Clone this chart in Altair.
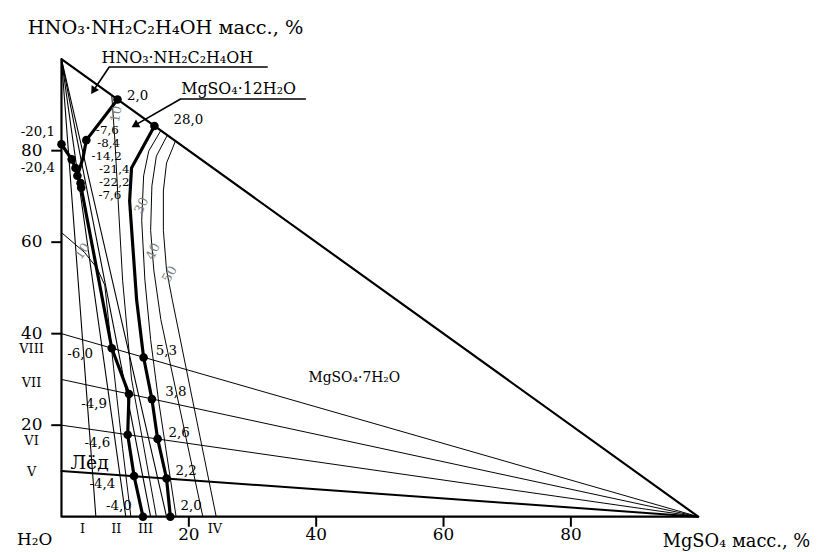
import altair as alt
import pandas as pd

# ---------------- data (x = MgSO4 mass %, y = HNO3·NH2C2H4OH mass %) ----------------
side_x = [0, 100, 0, 0]
side_y = [100, 0, 0, 100]

fan_ends = [5.4, 10.1, 14.0, 16.5]          # sections I..IV from HNO3·NH2C2H4OH vertex
sec_starts = [10, 20, 30, 40]                # sections V..VIII from MgSO4 vertex

curve_A_x = [3.1, 7.9, 10.6, 10.4, 11.4, 12.8]
curve_A_y = [71.9, 36.8, 26.8, 17.9, 8.9, 0]
curve_B_x = [14.6, 11.0, 10.7, 11.8, 12.9, 14.2, 15.1, 16.5, 17.1]
curve_B_y = [85.4, 76.2, 69.0, 47.4, 34.8, 25.7, 17.0, 8.35, 0]
curve_C_x = [8.8, 3.9, 3.4, 2.5]
curve_C_y = [91.2, 82.3, 78.5, 74.5]
curve_D_x = [0, 1.6, 2.2, 2.5, 3.0, 3.1]
curve_D_y = [81.4, 78.1, 76.2, 74.5, 72.9, 71.9]

iso10a_x = [7.9, 8.4, 8.9, 9.6, 11.0, 14.9]
iso10a_y = [92.1, 82.0, 69.0, 51.7, 30.1, 0]
iso10b_x = [0, 3.6, 5.6, 6.8, 8.2, 9.6, 10.9]
iso10b_y = [62.1, 57.8, 54.3, 50.6, 32.3, 14.9, 0]
iso30_x = [15.6, 13.7, 12.9, 12.6, 13.1, 14.0, 15.2, 18.0]
iso30_y = [84.4, 79.9, 74.5, 64.7, 51.7, 38.7, 25.8, 0]
iso40_x = [16.6, 14.9, 14.2, 14.0, 14.5, 15.6, 22.2]
iso40_y = [83.3, 78.8, 72.3, 62.6, 53.9, 43.1, 0]
iso50_x = [17.9, 16.5, 16.0, 16.0, 16.5, 17.4, 24.3]
iso50_y = [82.1, 77.3, 71.2, 62.6, 53.9, 47.4, 0]

lead1_x = [32.3, 7.5, 5.1]
lead1_y = [98.3, 98.3, 93.3]
lead2_x = [38.3, 18.7, 11.7]
lead2_y = [91.3, 91.3, 85.7]

# points with temperatures
pt_x = [8.8, 14.6, 0, 3.9, 1.6, 2.2, 2.5, 3.0, 3.1,
        7.9, 10.6, 10.4, 11.4, 12.8,
        12.9, 14.2, 15.1, 16.5, 17.1]
pt_y = [91.2, 85.4, 81.4, 82.3, 78.1, 76.2, 74.5, 72.9, 71.9,
        36.8, 26.8, 17.9, 8.9, 0,
        34.8, 25.7, 17.0, 8.35, 0]

ticks = [20, 40, 60, 80]

# ---------------- build tables ----------------
rows = []
def add(name, xs, ys, w):
    for i, (a, b) in enumerate(zip(xs, ys)):
        rows.append({"id": name, "ord": i, "x": a, "y": b, "w": w})

add("sides", side_x, side_y, 2.2)
for k, e in enumerate(fan_ends):
    add(f"fan{k}", [0, e], [100, 0], 1.1)
for k, s in enumerate(sec_starts):
    add(f"sec{k}", [0, 100], [s, 0], 2.0 if k == 0 else 1.0)
add("A", curve_A_x, curve_A_y, 3.2)
add("B", curve_B_x, curve_B_y, 3.2)
add("C", curve_C_x, curve_C_y, 3.2)
add("D", curve_D_x, curve_D_y, 3.2)
add("i10a", iso10a_x, iso10a_y, 1.0)
add("i10b", iso10b_x, iso10b_y, 1.0)
add("i30", iso30_x, iso30_y, 1.0)
add("i40", iso40_x, iso40_y, 1.0)
add("i50", iso50_x, iso50_y, 1.0)
add("lead1", lead1_x, lead1_y, 1.6)
add("lead2", lead2_x, lead2_y, 1.6)
lines = pd.DataFrame(rows)

tick_rows = []
for t in ticks:
    tick_rows.append({"x": -1.6, "x2": 0, "y": t, "y2": t})
    tick_rows.append({"x": t, "x2": t, "y": 0, "y2": -2.2})
tick_df = pd.DataFrame(tick_rows)

pts = pd.DataFrame({"x": pt_x, "y": pt_y})
arrows = pd.DataFrame({"x": [lead1_x[-1], lead2_x[-1]], "y": [lead1_y[-1], lead2_y[-1]],
                       "a": [213, 240]})

FONT = "DejaVu Serif"

left_txt = pd.DataFrame([
    {"x": -5.3, "y": 106.9, "t": "HNO₃·NH₂C₂H₄OH масс., %", "s": 19.5},
    {"x": 6.3, "y": 100.3, "t": "HNO₃·NH₂C₂H₄OH", "s": 16},
    {"x": 18.8, "y": 93.5, "t": "MgSO₄·12H₂O", "s": 16},
    {"x": 10.3, "y": 92.0, "t": "2,0", "s": 13.5},
    {"x": 17.6, "y": 86.8, "t": "28,0", "s": 13.5},
    {"x": 5.4, "y": 84.4, "t": "-7,6", "s": 12},
    {"x": 5.6, "y": 81.6, "t": "-8,4", "s": 12},
    {"x": 4.7, "y": 78.8, "t": "-14,2", "s": 12},
    {"x": 5.9, "y": 76.0, "t": "-21,4", "s": 12},
    {"x": 5.9, "y": 73.2, "t": "-22,2", "s": 12},
    {"x": 5.8, "y": 70.3, "t": "-7,6", "s": 12},
    {"x": 0.9, "y": 35.5, "t": "-6,0", "s": 13.5},
    {"x": 3.1, "y": 24.7, "t": "-4,9", "s": 13.5},
    {"x": 3.6, "y": 16.0, "t": "-4,6", "s": 13.5},
    {"x": 4.4, "y": 7.1, "t": "-4,4", "s": 13.5},
    {"x": 7.0, "y": 2.4, "t": "-4,0", "s": 13.5},
    {"x": 14.8, "y": 36.1, "t": "5,3", "s": 13.5},
    {"x": 16.3, "y": 27.3, "t": "3,8", "s": 13.5},
    {"x": 16.8, "y": 18.2, "t": "2,6", "s": 13.5},
    {"x": 17.9, "y": 10.0, "t": "2,2", "s": 13.5},
    {"x": 18.7, "y": 2.4, "t": "2,0", "s": 13.5},
    {"x": 1.4, "y": 11.7, "t": "Лёд", "s": 19},
])
right_txt = pd.DataFrame([
    {"x": -1.0, "y": 84.0, "t": "-20,1", "s": 13.5},
    {"x": -1.0, "y": 76.2, "t": "-20,4", "s": 13.5},
    {"x": -3.0, "y": 80, "t": "80", "s": 17},
    {"x": -3.0, "y": 60, "t": "60", "s": 17},
    {"x": -3.0, "y": 40, "t": "40", "s": 17},
    {"x": -3.0, "y": 20, "t": "20", "s": 17},
])
center_txt = pd.DataFrame([
    {"x": -4.7, "y": 9.8, "t": "V", "s": 13},
    {"x": -4.7, "y": 16.6, "t": "VI", "s": 13},
    {"x": -4.7, "y": 29.2, "t": "VII", "s": 13},
    {"x": -4.7, "y": 36.6, "t": "VIII", "s": 13},
    {"x": 3.3, "y": -2.6, "t": "I", "s": 13},
    {"x": 8.6, "y": -2.6, "t": "II", "s": 13},
    {"x": 13.2, "y": -2.6, "t": "III", "s": 13},
    {"x": 24.1, "y": -2.6, "t": "IV", "s": 13},
    {"x": 20, "y": -4.1, "t": "20", "s": 17},
    {"x": 40, "y": -4.1, "t": "40", "s": 17},
    {"x": 60, "y": -4.1, "t": "60", "s": 17},
    {"x": 80, "y": -4.1, "t": "80", "s": 17},
    {"x": -4.2, "y": -5.0, "t": "H₂O", "s": 17},
    {"x": 106.0, "y": -5.6, "t": "MgSO₄ масс., %", "s": 18},
    {"x": 46.0, "y": 30.3, "t": "MgSO₄·7H₂O", "s": 14},
])
iso_txt = pd.DataFrame([
    {"x": 8.6, "y": 88.0, "t": "10", "a": 280},
    {"x": 3.3, "y": 58.0, "t": "10", "a": 305},
    {"x": 12.6, "y": 68.0, "t": "30", "a": 295},
    {"x": 14.4, "y": 58.0, "t": "40", "a": 295},
    {"x": 17.0, "y": 53.0, "t": "50", "a": 300},
])

X = alt.X("x:Q", scale=alt.Scale(domain=[0, 100], nice=False, zero=False), axis=None)
Y = alt.Y("y:Q", scale=alt.Scale(domain=[0, 100], nice=False, zero=False), axis=None)

line_layer = alt.Chart(lines).mark_line(color="black", strokeCap="round", strokeJoin="round").encode(
    x=X, y=Y, detail="id:N", order="ord:Q",
    strokeWidth=alt.StrokeWidth("w:Q", scale=None),
)
tick_layer = alt.Chart(tick_df).mark_rule(color="black", strokeWidth=2).encode(
    x=X, y=Y, x2="x2:Q", y2="y2:Q"
)
dot_layer = alt.Chart(pts).mark_circle(color="black", opacity=1, size=75).encode(x=X, y=Y)
arrow_layer = alt.Chart(arrows).mark_point(shape="triangle", filled=True, color="black",
                                           opacity=1, size=80).encode(
    x=X, y=Y, angle=alt.Angle("a:Q", scale=None)
)

def text_layer(df, align):
    return alt.Chart(df).mark_text(font=FONT, align=align, baseline="middle", color="black").encode(
        x=X, y=Y, text="t:N", size=alt.Size("s:Q", scale=None)
    )

iso_layer = alt.Chart(iso_txt).mark_text(font=FONT, fontSize=13, color="#808080",
                                         align="center", baseline="middle").encode(
    x=X, y=Y, text="t:N", angle=alt.Angle("a:Q", scale=None)
)

chart = alt.layer(
    line_layer, tick_layer, dot_layer, arrow_layer,
    text_layer(left_txt, "left"), text_layer(right_txt, "right"),
    text_layer(center_txt, "center"), iso_layer,
).properties(
    width=643, height=462,
    autosize=alt.AutoSizeParams(type="none"),
    padding={"left": 54, "top": 49, "right": 129, "bottom": 33},
).configure_view(stroke=None)

chart.save("out.html", embed_options={"renderer": "svg", "actions": False})
